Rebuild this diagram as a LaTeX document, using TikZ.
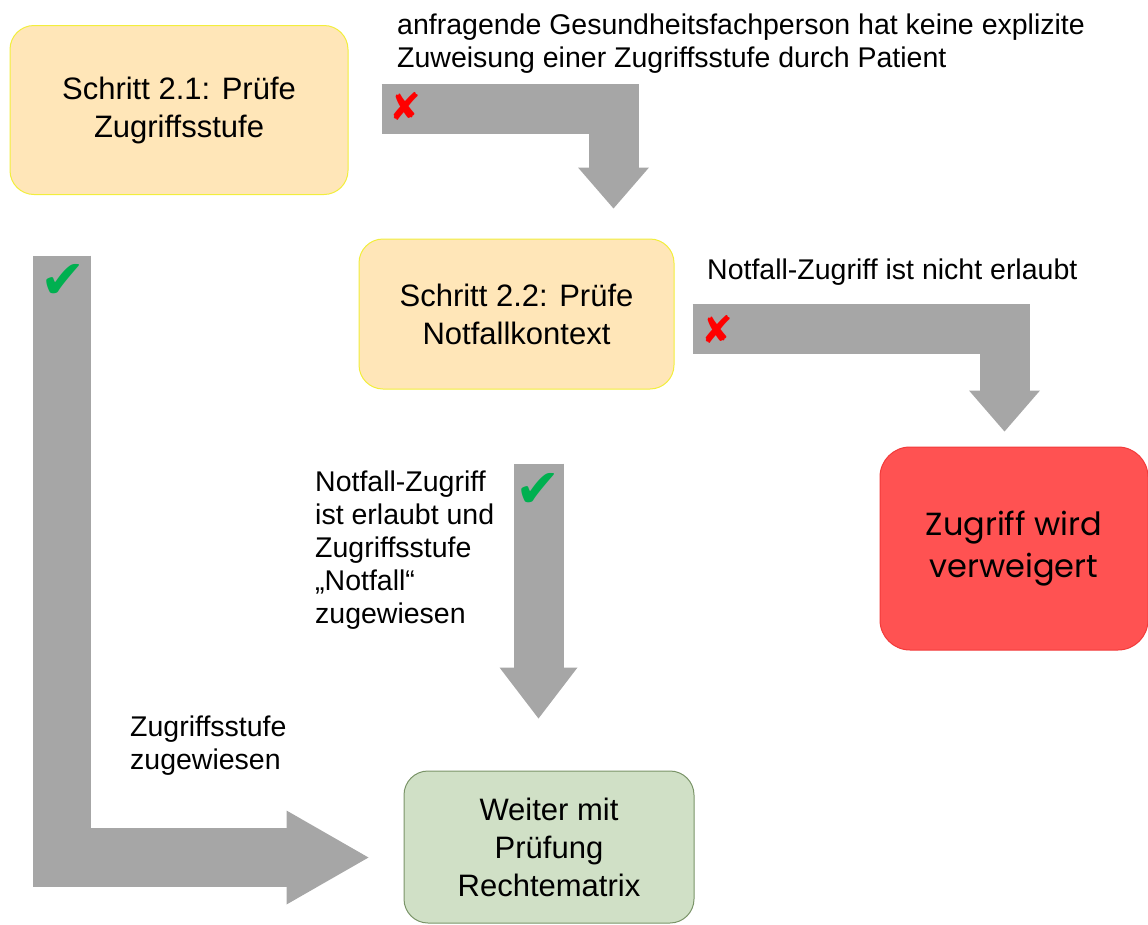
\documentclass[tikz,border=0pt]{standalone}
\usepackage{fontspec}
\setmainfont{Liberation Sans}
\newfontfamily\symfont{DejaVu Sans}
\newfontfamily\gothfont{Poppins}
\usetikzlibrary{arrows.meta,positioning}
\definecolor{StepFill}{HTML}{FFE6B8}
\definecolor{StepLine}{HTML}{F2EE3C}
\definecolor{DenyFill}{HTML}{FF5252}
\definecolor{DenyLine}{HTML}{F23A3A}
\definecolor{GoFill}{HTML}{D0E0C6}
\definecolor{GoLine}{HTML}{7A9468}
\definecolor{FlowGray}{HTML}{A6A6A6}
\definecolor{TickGreen}{HTML}{00B050}
\definecolor{CrossRed}{HTML}{FF0000}
\tikzset{
  % Base box
  BX/.style={rectangle,rounded corners=24pt,draw,line width=1pt,
             text centered,align=center,inner sep=0pt,
             font=\fontsize{31}{38}\selectfont},
  % Colour variants
  sO/.style={BX,fill=StepFill,draw=StepLine},
  sR/.style={BX,fill=DenyFill,draw=DenyLine,rounded corners=30pt,
             font=\gothfont\fontsize{32}{42}\selectfont},
  sG/.style={BX,fill=GoFill,draw=GoLine},
  % Block arrow
  blk/.style={draw=FlowGray,line width=#1,line join=miter},
  % Label styles
  LT/.style={anchor=north west,align=left,inner sep=0pt,
             font=\fontsize{28.5}{33}\selectfont},
  OK/.style={inner sep=0pt,text=TickGreen,font=\symfont\fontsize{54}{54}\selectfont},
  NO/.style={inner sep=0pt,text=CrossRed,font=\symfont\fontsize{38}{38}\selectfont}
}
\begin{document}
\begin{tikzpicture}[x=1pt,y=-1pt]
  \useasboundingbox (0,0) rectangle (1148,924);
  \node[sO,minimum width=338pt,minimum height=169pt] (chk1) at (179,110) {Schritt 2.1: Prüfe\\Zugriffsstufe};
  \node[sO,minimum width=315pt,minimum height=150pt,below right=43.5pt and 10pt of chk1] (chk2) {Schritt 2.2: Prüfe\\Notfallkontext};
  \node[sR,minimum width=268pt,minimum height=203pt,below right=57pt and 205pt of chk2] (deny) {Zugriff wird\\verweigert};
  \node[sG,minimum width=290pt,minimum height=152pt,below right=381pt and 45pt of chk2.south west] (go) {Weiter mit\\Prüfung\\Rechtematrix};

  \draw[blk=50pt,-{Triangle[length=41pt,width=71pt,line width=0pt]}]
    ([xshift=33pt,yshift=1.5pt]chk1.east) -| ([xshift=97pt,yshift=30pt]chk2.north);
  \draw[blk=50pt,-{Triangle[length=41pt,width=71pt,line width=0pt]}]
    ([xshift=18pt,yshift=-14.5pt]chk2.east) -| ([xshift=-9.5pt,yshift=15pt]deny.north);
  \draw[blk=50pt,-{Triangle[length=51pt,width=78pt,line width=0pt]}]
    ([xshift=22pt,yshift=-74pt]chk2.south) -- ([xshift=-10.5pt,yshift=52pt]go.north);
  \draw[blk=58.5pt,-{Triangle[length=82pt,width=94pt,line width=0pt]}]
    ([xshift=52.5pt,yshift=-60.5pt]chk1.south west) |- ([xshift=-35pt,yshift=-10.5pt]go.west);

  \node[NO] (no1) at (405,106.5) {✘};
  \node[NO] (no2) at (717,329) {✘};
  \node[OK] (ok1) at (63,281) {✔};
  \node[OK] (ok2) at (538,490) {✔};

  \node[LT] (t1) at (397,14) {anfragende Gesundheitsfachperson hat keine explizite\\Zuweisung einer Zugriffsstufe durch Patient};
  \node[LT] (t2) at (707,259) {Notfall-Zugriff ist nicht erlaubt};
  \node[LT] (t3) at (315,471) {Notfall-Zugriff\\ist erlaubt und\\Zugriffsstufe\\„Notfall“\\zugewiesen};
  \node[LT] (t4) at (130,716) {Zugriffsstufe\\zugewiesen};
\end{tikzpicture}
\end{document}
